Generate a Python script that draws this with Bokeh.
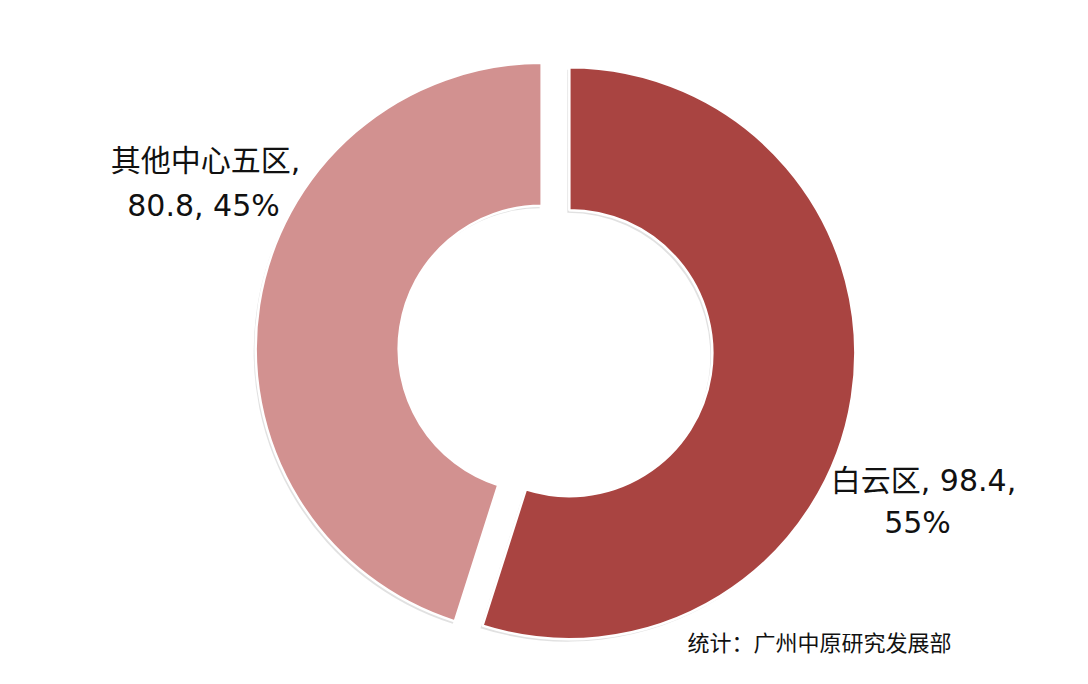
import numpy as np
from bokeh.plotting import figure
from bokeh.models import Range1d, ColumnDataSource
from bokeh.core.properties import value
from bokeh.embed import file_html
from bokeh.resources import INLINE

# ---- data ----
categories = ["白云区", "其他中心五区"]
values = [98.4, 80.8]
percents = [55, 45]
colors = ["#A94441", "#D29190"]
source_note = "统计：广州中原研究发展部"

W, H = 1072, 668
p = figure(width=W, height=H, output_backend="svg", toolbar_location=None,
           x_range=Range1d(0, W), y_range=Range1d(0, H), min_border=0)
p.axis.visible = False
p.grid.visible = False
p.outline_line_color = None
p.background_fill_color = "white"
p.border_fill_color = "white"

# layout (pixel-like data units; y measured up from the bottom)
cx, cy = 555, 317.5
r_out, r_in = 286, 143
explode = 14

vals = np.array(values, dtype=float)
frac = vals / vals.sum()
# start at 12 o'clock, going clockwise
ends = np.pi / 2 - np.concatenate([[0], np.cumsum(frac)[:-1]]) * 2 * np.pi
starts = ends - frac * 2 * np.pi
mids = (starts + ends) / 2
xs = cx + explode * np.cos(mids)
ys = cy + explode * np.sin(mids)

src = ColumnDataSource(dict(x=xs, y=ys, start=starts, end=ends, color=colors,
                            sx=xs - 2, sy=ys - 2.5))
# soft shadow
p.annular_wedge(x="sx", y="sy", inner_radius=r_in, outer_radius=r_out,
                start_angle="start", end_angle="end", direction="anticlock",
                fill_color="#c9c9c9", fill_alpha=0.55, line_color=None, source=src)
p.annular_wedge(x="x", y="y", inner_radius=r_in, outer_radius=r_out,
                start_angle="start", end_angle="end", direction="anticlock",
                fill_color="color", line_color="white", line_width=2.5, source=src)

font = value("DejaVu Sans, Noto Sans CJK SC")
# labels
lab_right = [f"{categories[0]}, {values[0]},", f"{percents[0]}%"]
lab_left = [f"{categories[1]},", f"{values[1]}, {percents[1]}%"]
p.text(x=[923, 917], y=[668 - 480, 668 - 522], text=lab_right,
       text_align="center", text_baseline="middle", text_font=font,
       text_font_size="30px", text_color="#111111")
p.text(x=[205, 203], y=[668 - 160, 668 - 205], text=lab_left,
       text_align="center", text_baseline="middle", text_font=font,
       text_font_size="30px", text_color="#111111")
p.text(x=[687], y=[668 - 640], text=[source_note], text_align="left",
       text_baseline="middle", text_font=value("Noto Sans CJK SC"),
       text_font_size="22px", text_color="#111111")

open("out.html", "w").write(file_html(p, INLINE))
